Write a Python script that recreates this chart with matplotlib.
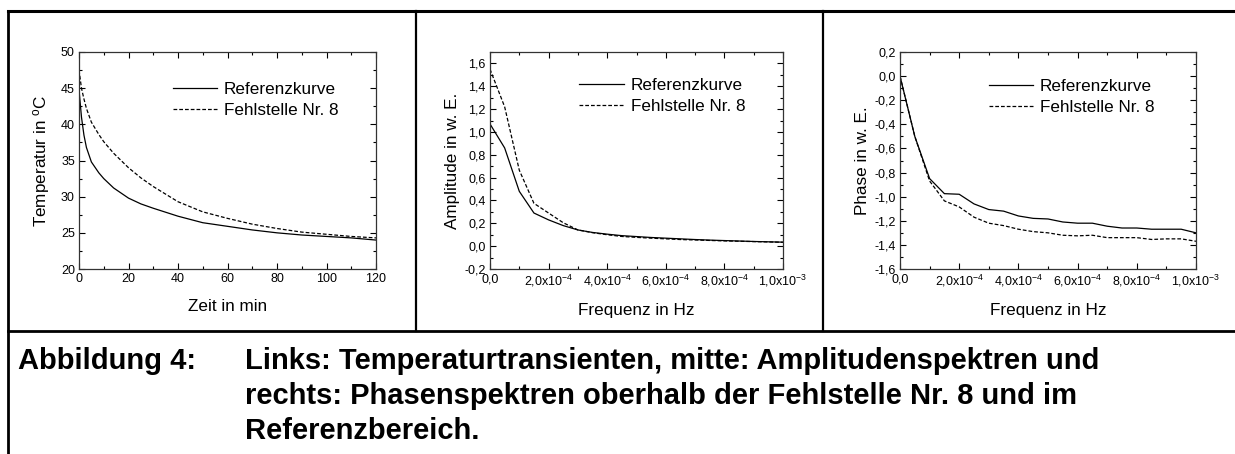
import matplotlib
matplotlib.use('Agg')
import matplotlib.pyplot as plt
from matplotlib import font_manager
from matplotlib.lines import Line2D
from matplotlib.ticker import MultipleLocator, FixedLocator

plt.rcParams['font.family'] = ['Liberation Sans', 'DejaVu Sans']
plt.rcParams['mathtext.fontset'] = 'custom'
plt.rcParams['mathtext.rm'] = 'Liberation Sans'
plt.rcParams['mathtext.it'] = 'Liberation Sans'

# === Daten ===
zeit = [0, 1, 2, 3, 5, 8, 10, 14, 20, 25, 30, 40, 50, 60, 70, 80, 90, 100, 110, 120]
temp_ref = [44.8, 41.0, 38.5, 36.8, 34.8, 33.3, 32.5, 31.2, 29.8, 29.0, 28.4, 27.3,
            26.4, 25.9, 25.4, 25.0, 24.7, 24.5, 24.3, 24.0]
temp_fehl = [47.5, 45.0, 43.5, 42.2, 40.3, 38.6, 37.6, 36.0, 34.0, 32.6, 31.4, 29.3,
             27.9, 27.0, 26.2, 25.6, 25.1, 24.8, 24.5, 24.3]

freq = [0.0, 0.5e-4, 1.0e-4, 1.5e-4, 2.0e-4, 2.5e-4, 3.0e-4, 3.5e-4, 4.0e-4, 4.5e-4, 5.0e-4,
        5.5e-4, 6.0e-4, 6.5e-4, 7.0e-4, 7.5e-4, 8.0e-4, 8.5e-4, 9.0e-4, 9.5e-4, 1.0e-3]
amp_ref = [1.07, 0.86, 0.48, 0.29, 0.23, 0.18, 0.142, 0.12, 0.105, 0.092, 0.084,
           0.076, 0.070, 0.064, 0.058, 0.053, 0.049, 0.045, 0.041, 0.038, 0.035]
amp_fehl = [1.55, 1.22, 0.665, 0.375, 0.29, 0.205, 0.142, 0.118, 0.100, 0.085, 0.077,
            0.070, 0.064, 0.058, 0.054, 0.050, 0.046, 0.043, 0.040, 0.037, 0.034]
phase_ref = [0.0, -0.50, -0.85, -0.975, -0.98, -1.06, -1.107, -1.12, -1.16, -1.18, -1.185,
             -1.21, -1.22, -1.22, -1.245, -1.26, -1.26, -1.27, -1.27, -1.27, -1.30]
phase_fehl = [0.0, -0.50, -0.87, -1.035, -1.085, -1.17, -1.22, -1.24, -1.27, -1.29, -1.30,
              -1.32, -1.325, -1.32, -1.34, -1.34, -1.34, -1.355, -1.35, -1.35, -1.37]

freq_ticks = [0.0, 2e-4, 4e-4, 6e-4, 8e-4, 1e-3]
freq_labels = ['0,0', r'2,0x10$^{\mathrm{-4}}$', r'4,0x10$^{\mathrm{-4}}$',
               r'6,0x10$^{\mathrm{-4}}$', r'8,0x10$^{\mathrm{-4}}$', r'1,0x10$^{\mathrm{-3}}$']
legend_labels = ['Referenzkurve', 'Fehlstelle Nr. 8']
caption_head = 'Abbildung 4:'
caption_lines = ['Links: Temperaturtransienten, mitte: Amplitudenspektren und',
                 'rechts: Phasenspektren oberhalb der Fehlstelle Nr. 8 und im',
                 'Referenzbereich.']

W, H = 1235, 454
fig = plt.figure(figsize=(W / 100, H / 100), dpi=100)
FS = 12.3

# fette Schrift fuer die Bildunterschrift
bold_file = None
for f in font_manager.findSystemFonts():
    if f.endswith('LiberationSans-Bold.ttf'):
        bold_file = f
        break
fs_cap = 21
if bold_file:
    cap_font = font_manager.FontProperties(fname=bold_file, size=fs_cap)
else:
    cap_font = font_manager.FontProperties(family='DejaVu Sans', weight='bold', size=fs_cap)


def px_axes(x0, x1, y0, y1):
    return fig.add_axes([x0 / W, 1 - y1 / H, (x1 - x0) / W, (y1 - y0) / H])


def comma(v, nd):
    return ('%.*f' % (nd, v)).replace('.', ',').replace('\u2212', '-')


def style(ax):
    for s in ax.spines.values():
        s.set_linewidth(0.9)
        s.set_color('#333333')
    ax.tick_params(which='both', direction='in', top=True, right=True, labelsize=9, pad=3)
    ax.tick_params(which='major', length=4, width=0.8)
    ax.tick_params(which='minor', length=2.5, width=0.8)


def add_legend(ax, x, y):
    ax.legend(legend_labels, loc='upper left', bbox_to_anchor=(x, y), frameon=False,
              fontsize=FS, handlelength=2.6, handletextpad=0.4, labelspacing=0.33,
              borderaxespad=0, borderpad=0)


dash = (0, (3, 1.6))

# --- links: Temperatur ---
ax1 = px_axes(79, 376, 52, 269)
ax1.plot(zeit, temp_ref, color='black', lw=0.9)
ax1.plot(zeit, temp_fehl, color='black', lw=0.9, ls=dash)
ax1.set_xlim(0, 120)
ax1.set_ylim(20, 50)
ax1.xaxis.set_major_locator(MultipleLocator(20))
ax1.xaxis.set_minor_locator(MultipleLocator(10))
ax1.yaxis.set_major_locator(MultipleLocator(5))
ax1.yaxis.set_minor_locator(MultipleLocator(2.5))
ax1.set_xlabel('Zeit in min', fontsize=FS, labelpad=10)
ax1.set_ylabel('Temperatur in $^{\\mathrm{o}}$C', fontsize=FS, labelpad=6)
style(ax1)
add_legend(ax1, 0.315, 0.86)

# --- mitte: Amplitude ---
ax2 = px_axes(490, 783, 52, 269)
ax2.plot(freq, amp_ref, color='black', lw=0.9)
ax2.plot(freq, amp_fehl, color='black', lw=0.9, ls=dash)
ax2.set_xlim(0, 1e-3)
ax2.set_ylim(-0.2, 1.7)
ax2.xaxis.set_major_locator(FixedLocator(freq_ticks))
ax2.set_xticklabels(freq_labels)
ax2.xaxis.set_minor_locator(MultipleLocator(1e-4))
ax2.yaxis.set_major_locator(MultipleLocator(0.2))
ax2.yaxis.set_minor_locator(MultipleLocator(0.1))
ax2.yaxis.set_major_formatter(lambda v, p: comma(v, 1))
ax2.set_xlabel('Frequenz in Hz', fontsize=FS, labelpad=10)
ax2.set_ylabel('Amplitude in w. E.', fontsize=FS, labelpad=3)
style(ax2)
add_legend(ax2, 0.305, 0.88)

# --- rechts: Phase ---
ax3 = px_axes(900, 1196, 52, 269)
ax3.plot(freq, phase_ref, color='black', lw=0.9)
ax3.plot(freq, phase_fehl, color='black', lw=0.9, ls=dash)
ax3.set_xlim(0, 1e-3)
ax3.set_ylim(-1.6, 0.2)
ax3.xaxis.set_major_locator(FixedLocator(freq_ticks))
ax3.set_xticklabels(freq_labels)
ax3.xaxis.set_minor_locator(MultipleLocator(1e-4))
ax3.yaxis.set_major_locator(MultipleLocator(0.2))
ax3.yaxis.set_minor_locator(MultipleLocator(0.1))
ax3.yaxis.set_major_formatter(lambda v, p: comma(v, 1))
ax3.set_xlabel('Frequenz in Hz', fontsize=FS, labelpad=10)
ax3.set_ylabel('Phase in w. E.', fontsize=FS, labelpad=3)
style(ax3)
add_legend(ax3, 0.30, 0.875)


# === Tabellenrahmen ===
def fline(x0, y0, x1, y1, lw=1.8):
    fig.add_artist(Line2D([x0 / W, x1 / W], [1 - y0 / H, 1 - y1 / H],
                          transform=fig.transFigure, color='black', lw=lw))


fline(8, 11, W, 11, lw=2.2)
fline(8, 11, 8, H, lw=2.0)
fline(8, 331, W, 331, lw=2.0)
fline(416, 11, 416, 331, lw=1.6)
fline(823, 11, 823, 331, lw=1.6)

# === Bildunterschrift ===
fig.text(18 / W, 1 - 369 / H, caption_head, fontproperties=cap_font, va='baseline')
for i, line in enumerate(caption_lines):
    fig.text(245 / W, 1 - (369 + 35 * i) / H, line, fontproperties=cap_font, va='baseline')

fig.savefig('out.png', dpi=100)
